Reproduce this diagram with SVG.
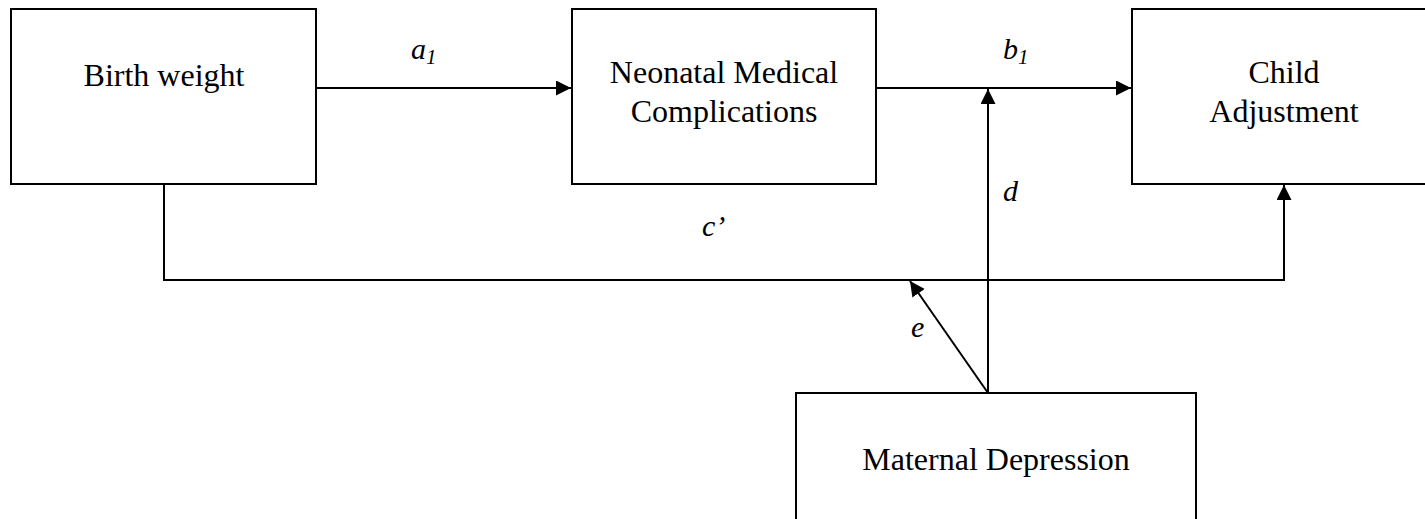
<svg xmlns="http://www.w3.org/2000/svg" width="1425" height="519" viewBox="0 0 1425 519">
  <style>
    .box { fill: #ffffff; stroke: #000000; stroke-width: 2; }
    .conn { fill: none; stroke: #000000; stroke-width: 2; }
    .lbl { font-family: "Liberation Serif", "Times New Roman", serif; font-size: 32px; fill: #000000; text-anchor: middle; }
    .path { font-family: "Liberation Serif", "Times New Roman", serif; font-size: 30px; font-style: italic; fill: #000000; }
    .sub { font-size: 21px; }
  </style>
  <defs>
    <marker id="arrow" markerUnits="userSpaceOnUse" markerWidth="16" markerHeight="16" refX="15" refY="7.5" orient="auto">
      <path d="M0,0 L15,7.5 L0,15 z" fill="#000000"/>
    </marker>
  </defs>
  <rect width="1425" height="519" fill="#ffffff"/>

  <g id="connectors">
    <line class="conn" x1="316" y1="88" x2="571" y2="88" marker-end="url(#arrow)"/>
    <line class="conn" x1="876" y1="88" x2="1131" y2="88" marker-end="url(#arrow)"/>
    <polyline class="conn" points="164,184 164,280 1284,280 1284,185" marker-end="url(#arrow)"/>
    <line class="conn" x1="988" y1="393" x2="988" y2="89" marker-end="url(#arrow)"/>
    <line class="conn" x1="988" y1="393" x2="910" y2="281" marker-end="url(#arrow)"/>
    <text class="path" x="411" y="59">a<tspan class="sub" dy="5">1</tspan></text>
    <text class="path" x="1003" y="59">b<tspan class="sub" dy="5">1</tspan></text>
    <text class="path" x="702" y="236">c’</text>
    <text class="path" x="1003" y="201">d</text>
    <text class="path" x="911" y="337">e</text>
  </g>

  <g id="node-birth-weight">
    <rect class="box" x="11" y="9" width="305" height="175"/>
    <text class="lbl" x="164" y="86">Birth weight</text>
  </g>

  <g id="node-neonatal">
    <rect class="box" x="572" y="9" width="304" height="175"/>
    <text class="lbl" x="724" y="83">Neonatal Medical</text>
    <text class="lbl" x="724" y="122">Complications</text>
  </g>

  <g id="node-child-adjustment">
    <rect class="box" x="1132" y="9" width="304" height="175"/>
    <text class="lbl" x="1284" y="83">Child</text>
    <text class="lbl" x="1284" y="122">Adjustment</text>
  </g>

  <g id="node-maternal-depression">
    <rect class="box" x="796" y="393" width="400" height="140"/>
    <text class="lbl" x="996" y="470">Maternal Depression</text>
  </g>
</svg>
